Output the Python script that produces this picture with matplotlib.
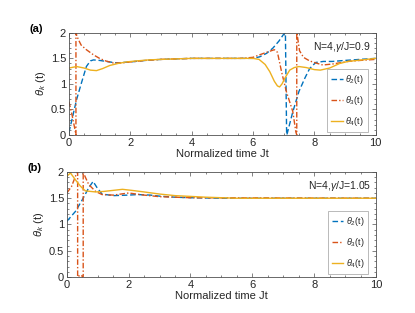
import matplotlib
matplotlib.use("Agg")
import matplotlib.pyplot as plt
from matplotlib.ticker import MultipleLocator

plt.rcParams['font.family'] = ['Liberation Sans', 'DejaVu Sans']
plt.rcParams['mathtext.fontset'] = 'custom'
plt.rcParams['mathtext.it'] = 'Liberation Sans:italic'
plt.rcParams['mathtext.rm'] = 'Liberation Sans'

# panel (a): N=4, gamma/J=0.9
ta2 = [0, 0.1, 0.25, 0.4, 0.57, 0.7, 0.8, 1.0, 1.22, 1.55, 2.0, 2.5, 3.0, 4.0, 5.0, 6.0,
       6.22, 6.45, 6.65, 6.85, 7.0, 7.06, 7.1, 7.12, 7.3, 7.5, 7.7, 7.85, 8.05, 8.3, 8.6,
       9.0, 9.5, 10]
ya2 = [0.05, 0.3, 0.69, 1.0, 1.34, 1.45, 1.47, 1.46, 1.44, 1.41, 1.43, 1.46, 1.48, 1.5, 1.5, 1.5,
       1.53, 1.6, 1.7, 1.84, 1.97, 2.0, 0.0, 0.03, 0.45, 0.85, 1.12, 1.3, 1.42, 1.44, 1.44,
       1.46, 1.48, 1.5]
ta3 = [0, 0.1, 0.2, 0.23, 0.23, 0.3, 0.4, 0.57, 0.8, 1.0, 1.2, 1.45, 1.7, 2.0, 2.5, 3.0, 4.0,
       5.0, 5.6, 6.0, 6.22, 6.45, 6.7, 6.8, 6.93, 7.09, 7.3, 7.4, 7.43, 7.43, 7.46, 7.52, 7.65,
       7.85, 8.05, 8.28, 8.6, 9.1, 9.5, 10]
ya3 = [0.65, 0.4, 0.1, 0.0, 2.0, 1.88, 1.76, 1.67, 1.57, 1.5, 1.45, 1.41, 1.41, 1.43, 1.46, 1.48, 1.5,
       1.5, 1.5, 1.52, 1.57, 1.62, 1.67, 1.62, 1.25, 0.85, 0.46, 0.06, 0.0, 2.0, 1.9, 1.65, 1.52,
       1.45, 1.41, 1.37, 1.39, 1.44, 1.46, 1.48]
ta4 = [0, 0.25, 0.5, 0.7, 0.9, 1.1, 1.33, 1.6, 1.87, 2.2, 2.6, 3.0, 4.0, 5.0, 6.0, 6.2, 6.4,
       6.55, 6.7, 6.8, 6.87, 6.95, 7.05, 7.2, 7.35, 7.5, 7.74, 8.0, 8.2, 8.5, 8.83, 9.1, 9.4, 10]
ya4 = [1.31, 1.34, 1.31, 1.27, 1.26, 1.3, 1.36, 1.4, 1.43, 1.45, 1.47, 1.48, 1.5, 1.5, 1.5, 1.48, 1.38,
       1.24, 1.05, 0.96, 0.94, 1.0, 1.12, 1.27, 1.32, 1.34, 1.32, 1.28, 1.27, 1.31, 1.4, 1.44, 1.46, 1.5]

# panel (b): N=4, gamma/J=1.05
tb2 = [0, 0.28, 0.5, 0.71, 0.85, 0.98, 1.14, 1.5, 2.0, 2.3, 2.7, 3.0, 3.5, 4.0, 5.0, 10]
yb2 = [1.06, 1.25, 1.47, 1.7, 1.82, 1.7, 1.58, 1.55, 1.56, 1.57, 1.56, 1.54, 1.52, 1.51, 1.5, 1.5]
tb3 = [0, 0.15, 0.3, 0.35, 0.35, 0.44, 0.53, 0.53, 0.6, 0.71, 0.93, 1.14, 1.5, 2.0, 2.5, 3.0,
       4.0, 10]
yb3 = [1.6, 1.72, 1.95, 2.0, 0.0, 0.04, 0.0, 2.0, 1.9, 1.76, 1.63, 1.57, 1.56, 1.6, 1.56, 1.53,
       1.51, 1.5]
tb4 = [0, 0.12, 0.28, 0.44, 0.6, 0.93, 1.2, 1.5, 1.8, 2.1, 2.5, 3.0, 3.5, 4.5, 5.5, 10]
yb4 = [1.92, 1.98, 1.85, 1.73, 1.64, 1.62, 1.63, 1.65, 1.67, 1.65, 1.62, 1.58, 1.55, 1.52, 1.5, 1.5]

labels = [r'$\theta_2$(t)', r'$\theta_3$(t)', r'$\theta_4$(t)']
blue, red, yellow = '#0072BD', '#D95319', '#EDB120'
txt = '#262626'

fig = plt.figure(figsize=(4.15, 3.13), dpi=100)
ax1 = fig.add_axes([0.166, 0.569, 0.739, 0.326])
ax2 = fig.add_axes([0.161, 0.115, 0.745, 0.3355])


def panel(ax, series, note, tag):
    (t2, y2), (t3, y3), (t4, y4) = series
    ax.plot(t2, y2, '--', color=blue, lw=1.0, dashes=(4, 2), label=labels[0])
    ax.plot(t3, y3, '-.', color=red, lw=1.0, dashes=(4, 1.5, 1, 1.5), label=labels[1])
    ax.plot(t4, y4, '-', color=yellow, lw=1.0, label=labels[2])
    ax.set_xlim(0, 10)
    ax.set_ylim(0, 2)
    ax.set_xticks([0, 2, 4, 6, 8, 10])
    ax.set_yticks([0, 0.5, 1, 1.5, 2])
    ax.set_yticklabels(['0', '0.5', '1', '1.5', '2'])
    ax.xaxis.set_minor_locator(MultipleLocator(0.5))
    ax.yaxis.set_minor_locator(MultipleLocator(0.1))
    ax.tick_params(which='both', direction='in', top=True, right=True,
                   colors='#505050', labelcolor=txt, labelsize=8, width=0.5, pad=2)
    ax.tick_params(which='major', length=3)
    ax.tick_params(which='minor', length=1.5)
    for s in ax.spines.values():
        s.set_color('#505050')
        s.set_linewidth(0.6)
    ax.set_xlabel('Normalized time Jt', fontsize=8, color=txt, labelpad=1)
    ax.set_ylabel(r'$\theta_k$ (t)', fontsize=8, color=txt, labelpad=2)
    ax.text(0.985, 0.93, note, transform=ax.transAxes, ha='right', va='top',
            fontsize=7.5, color=txt)
    ax.text(-0.105, 1.04, tag, transform=ax.transAxes, ha='center', va='center',
            fontsize=8, fontweight='bold', color='black')
    leg = ax.legend(loc='lower right', bbox_to_anchor=(0.975, 0.03), fontsize=6.5,
                    handlelength=1.3, labelspacing=0.85, borderpad=0.45,
                    handletextpad=0.25, borderaxespad=0, fancybox=False)
    leg.get_frame().set_edgecolor('#9a9a9a')
    leg.get_frame().set_linewidth(0.6)
    for t in leg.get_texts():
        t.set_color(txt)


panel(ax1, [(ta2, ya2), (ta3, ya3), (ta4, ya4)], r'N=4,$\gamma$/J=0.9', '(a)')
panel(ax2, [(tb2, yb2), (tb3, yb3), (tb4, yb4)], r'N=4,$\gamma$/J=1.05', '(b)')

fig.savefig('out.png', dpi=100)
